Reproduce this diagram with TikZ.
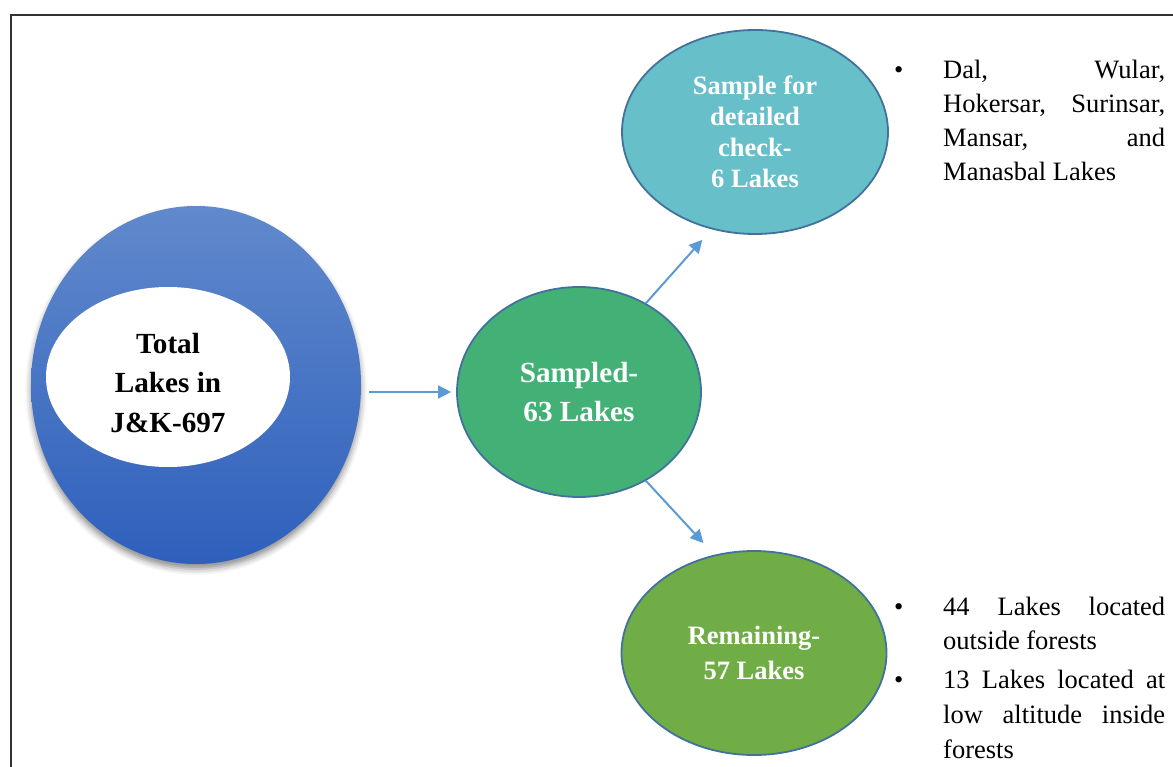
\documentclass[tikz,border=0pt]{standalone}
\usepackage{fontspec}
\setmainfont{Liberation Serif}
\usetikzlibrary{arrows.meta,shapes.geometric,shadows.blur}
\definecolor{arrowblue}{HTML}{5B9BD5}
\definecolor{edgeblue}{HTML}{41719C}
\definecolor{bluetop}{HTML}{6189CC}
\definecolor{bluebot}{HTML}{2E60BC}
\definecolor{tealfill}{HTML}{67BFCA}
\definecolor{samplegreen}{HTML}{43B175}
\definecolor{remgreen}{HTML}{70AD47}
\tikzset{
  blob/.style={ellipse, draw=edgeblue, line width=1.8pt, inner sep=0pt, text=white, align=center},
  bigfont/.style={font=\fontsize{29.2}{39.5}\selectfont\bfseries},
  midfont/.style={font=\fontsize{26.5}{31}\selectfont\bfseries},
  conn/.style={draw=arrowblue, line width=2pt, -{Triangle[length=13pt,width=13pt]}},
  bodytext/.style={font=\fontsize{26.5}{34}\selectfont, anchor=base west, inner sep=0pt}
}
\begin{document}
\begin{tikzpicture}[x=1pt,y=-1pt]
\useasboundingbox (0,0) rectangle (1173,767);
\clip (0,0) rectangle (1173,767);
\draw[line width=1.5pt, black!80] (11,15) rectangle (1200,800);

% left big ellipse
\node[ellipse, minimum width=330pt, minimum height=358pt, inner sep=0pt,
      top color=bluetop, bottom color=bluebot,
      blur shadow={shadow xshift=0pt, shadow yshift=-5pt, shadow blur radius=6pt, shadow opacity=45}]
      (lakes) at (196,385) {};
\node[ellipse, fill=white, minimum width=244pt, minimum height=180pt, inner sep=0pt] (inner) at (168,377) {};
\node[bigfont, align=center, inner sep=0pt] (totaltext) at (168,383) {Total\\Lakes in\\J\&K-697};

% middle
\node[blob, fill=samplegreen, bigfont, minimum width=244pt, minimum height=210pt] (sampled) at (579,392) {Sampled-\\63 Lakes};

% top
\node[blob, fill=tealfill, midfont, minimum width=266pt, minimum height=204pt] (sample) at (755,132) {Sample for\\detailed\\check-\\6 Lakes};

% bottom
\node[blob, fill=remgreen, font=\fontsize{26.5}{35}\selectfont\bfseries, minimum width=265pt, minimum height=204pt] (remaining) at (754,653) {Remaining-\\57 Lakes};

% connectors
\draw[conn, shorten <=8pt, shorten >=5pt] (lakes.east |- sampled.west) -- (sampled.west);
\draw[conn, shorten >=14pt] (sampled.53) -- (sample.246);
\draw[conn, shorten >=16pt] (sampled.307) -- (remaining.112.5);

% right texts
\node[bodytext] (bul1) at (894,79) {•};
\node[bodytext] (t1) at (943,79) {\makebox[222pt][s]{Dal, Wular,}};
\node[bodytext] (t2) at (943,113) {\makebox[222pt][s]{Hokersar, Surinsar,}};
\node[bodytext] (t3) at (943,147) {\makebox[222pt][s]{Mansar, and}};
\node[bodytext] (t4) at (943,181) {Manasbal Lakes};

\node[bodytext] (bul2) at (894,615) {•};
\node[bodytext] (u1) at (943,615) {\makebox[222pt][s]{44 Lakes located}};
\node[bodytext] (u2) at (943,649) {outside forests};
\node[bodytext] (bul3) at (894,688) {•};
\node[bodytext] (u3) at (943,688) {\makebox[222pt][s]{13 Lakes located at}};
\node[bodytext] (u4) at (943,723) {\makebox[222pt][s]{low altitude inside}};
\node[bodytext] (u5) at (943,758) {forests};
\end{tikzpicture}
\end{document}
